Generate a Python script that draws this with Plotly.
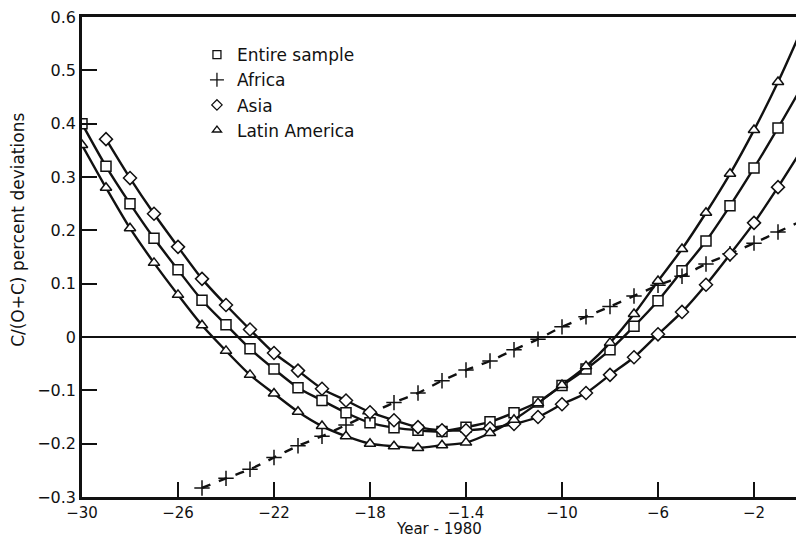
import plotly.graph_objects as go

# ---- data ----
years = list(range(-30, 1))  # -30 .. 0

entire = [0.40, 0.32, 0.25, 0.185, 0.126, 0.069, 0.023, -0.022, -0.06, -0.095,
          -0.119, -0.142, -0.161, -0.17, -0.175, -0.177, -0.169, -0.159, -0.142, -0.122,
          -0.091, -0.06, -0.024, 0.02, 0.068, 0.124, 0.18, 0.246, 0.317, 0.392, 0.47]

africa = [None] * 5 + [-0.283, -0.265, -0.248, -0.226, -0.204, -0.186, -0.165, -0.144, -0.123,
                       -0.105, -0.082, -0.062, -0.045, -0.024, -0.004, 0.019, 0.038, 0.057,
                       0.077, 0.097, 0.114, 0.137, 0.156, 0.176, 0.197, 0.218]

asia = [None] + [0.371, 0.298, 0.231, 0.169, 0.109, 0.06, 0.014, -0.03, -0.063, -0.097,
                 -0.119, -0.141, -0.156, -0.169, -0.175, -0.175, -0.171, -0.163, -0.15, -0.126,
                 -0.105, -0.071, -0.038, 0.005, 0.047, 0.098, 0.155, 0.214, 0.281, 0.352]

latin = [0.36, 0.28, 0.204, 0.139, 0.079, 0.022, -0.026, -0.071, -0.106, -0.14,
         -0.167, -0.186, -0.2, -0.205, -0.208, -0.203, -0.198, -0.18, -0.155, -0.124,
         -0.09, -0.055, -0.011, 0.043, 0.105, 0.165, 0.233, 0.306, 0.388, 0.478, 0.578]

series_names = ["Entire sample", "Africa", "Asia", "Latin America"]
series_values = [entire, africa, asia, latin]
symbols = ["square", "cross-thin", "diamond", "triangle-up"]
dashes = ["solid", "dash", "solid", "solid"]

x_tickvals = [-30, -26, -22, -18, -14, -10, -6, -2]
x_ticktext = ["−30", "−26", "−22", "−18", "−1.4", "−10", "−6", "−2"]
y_tickvals = [0.6, 0.5, 0.4, 0.3, 0.2, 0.1, 0, -0.1, -0.2, -0.3]
y_ticktext = ["0.6", "0.5", "0.4", "0.3", "0.2", "0.1", "0", "−0.1", "−0.2", "−0.3"]

FONT = "DejaVu Sans"
INK = "#111111"

fig = go.Figure()

for name, vals, sym, dash in zip(series_names, series_values, symbols, dashes):
    # curve (extends past the last marker to the frame edge)
    fig.add_trace(go.Scatter(
        x=years, y=vals, mode="lines", showlegend=False, hoverinfo="skip",
        line=dict(color=INK, width=2.4, dash=dash, shape="spline", smoothing=0.8),
    ))
    # markers at each year up to -1
    is_cross = sym.startswith("cross")
    fig.add_trace(go.Scatter(
        x=years[:-1], y=vals[:-1], mode="markers", name=name, showlegend=False,
        marker=dict(symbol=sym, size=11 if is_cross else 10, color="white",
                    line=dict(color=INK, width=1.5)),
    ))
    # legend entry (marker only)
    fig.add_trace(go.Scatter(
        x=[None], y=[None], mode="markers", name=name, showlegend=True,
        marker=dict(symbol=sym + "-open", size=10 if is_cross else 8, color=INK,
                    line=dict(color=INK, width=1.3)),
    ))

fig.update_layout(
    width=796, height=538,
    margin=dict(l=82, r=0, t=17, b=41),
    paper_bgcolor="white", plot_bgcolor="white",
    font=dict(family=FONT, color=INK, size=15),
    showlegend=True,
    legend=dict(x=0.161, y=0.958, xanchor="left", yanchor="top",
                bgcolor="rgba(0,0,0,0)", font=dict(size=17, family=FONT, color=INK),
                itemwidth=30, tracegroupgap=0),
    xaxis=dict(
        range=[-30, -0.25], tickmode="array", tickvals=x_tickvals, ticktext=x_ticktext,
        ticks="inside", ticklen=15, tickwidth=1.5, tickcolor=INK,
        showline=True, linewidth=2.5, linecolor=INK, mirror=True,
        showgrid=False, zeroline=False, automargin=False,
        tickfont=dict(size=15, family=FONT, color=INK),
    ),
    yaxis=dict(
        range=[-0.3, 0.6], tickmode="array", tickvals=y_tickvals, ticktext=y_ticktext,
        ticks="inside", ticklen=15, tickwidth=1.5, tickcolor=INK,
        showline=True, linewidth=2.5, linecolor=INK,
        showgrid=False, zeroline=True, zerolinewidth=1.5, zerolinecolor=INK,
        automargin=False,
        tickfont=dict(size=16, family=FONT, color=INK),
    ),
    annotations=[
        dict(text="C/(O+C) percent deviations", textangle=-90,
             xref="paper", yref="paper", x=-0.09, y=0.556, xanchor="center", yanchor="middle",
             showarrow=False, font=dict(size=17, family=FONT, color=INK)),
        dict(text="Year - 1980",
             xref="paper", yref="paper", x=0.5, y=-0.0677, xanchor="center", yanchor="middle",
             showarrow=False, font=dict(size=15, family=FONT, color=INK)),
    ],
)

fig.write_html("out.html", config={"displayModeBar": False},
               post_script="document.body.style.margin='0';")
